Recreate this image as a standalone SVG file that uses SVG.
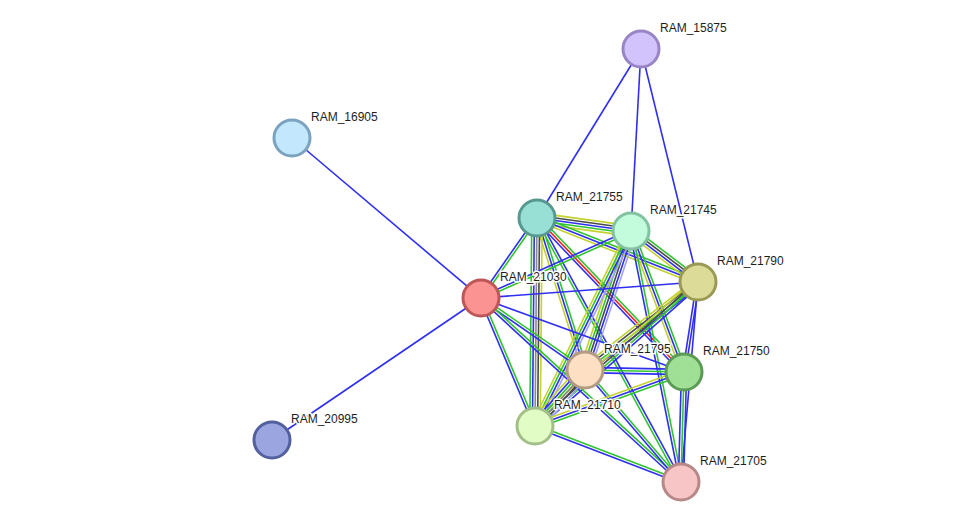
<svg xmlns="http://www.w3.org/2000/svg" width="976" height="528" viewBox="0 0 976 528">
<style>
line{stroke-width:1.6;fill:none}
.g{stroke:#2fc42f}.b{stroke:#2f2ff2}.y{stroke:#c3d22c}.k{stroke:#4a4a4a}.r{stroke:#ef2020}.h{stroke:#a4a4f6}
.node circle{stroke-width:3}
.node text{font-family:"Liberation Sans",Arial,sans-serif;font-size:12px;fill:#1e1e1e;stroke:#fff;stroke-width:3;paint-order:stroke;stroke-linejoin:round}
</style>
<rect width="976" height="528" fill="#fff"/>
<g id="edges">
<g transform="translate(292,138) rotate(40.25)"><line class="b" x1="0" y1="0" x2="247.6" y2="0"/></g>
<g transform="translate(272,440) rotate(-34.19)"><line class="b" x1="0" y1="0" x2="252.7" y2="0"/></g>
<g transform="translate(641,49) rotate(121.61)"><line class="b" x1="0" y1="0" x2="198.4" y2="0"/></g>
<g transform="translate(641,49) rotate(93.14)"><line class="b" x1="0" y1="0" x2="182.3" y2="0"/></g>
<g transform="translate(641,49) rotate(76.25)"><line class="b" x1="0" y1="0" x2="239.9" y2="0"/></g>
<g transform="translate(537,218) rotate(7.87)"><line class="y" x1="0" y1="-5.2" x2="94.9" y2="-5.2"/><line class="k" x1="0" y1="-2.6" x2="94.9" y2="-2.6"/><line class="b" x1="0" y1="0" x2="94.9" y2="0"/><line class="g" x1="0" y1="2.6" x2="94.9" y2="2.6"/><line class="y" x1="0" y1="5.2" x2="94.9" y2="5.2"/></g>
<g transform="translate(537,218) rotate(21.68)"><line class="g" x1="0" y1="-2.6" x2="173.3" y2="-2.6"/><line class="b" x1="0" y1="0" x2="173.3" y2="0"/><line class="y" x1="0" y1="2.6" x2="173.3" y2="2.6"/></g>
<g transform="translate(537,218) rotate(46.33)"><line class="g" x1="0" y1="-2.6" x2="212.9" y2="-2.6"/><line class="r" x1="0" y1="0" x2="212.9" y2="0"/><line class="b" x1="0" y1="2.6" x2="212.9" y2="2.6"/></g>
<g transform="translate(537,218) rotate(72.47)"><line class="g" x1="0" y1="-2.6" x2="159.4" y2="-2.6"/><line class="b" x1="0" y1="0" x2="159.4" y2="0"/><line class="y" x1="0" y1="2.6" x2="159.4" y2="2.6"/></g>
<g transform="translate(537,218) rotate(90.55)"><line class="y" x1="0" y1="-5.2" x2="208" y2="-5.2"/><line class="k" x1="0" y1="-2.6" x2="208" y2="-2.6"/><line class="k" x1="0" y1="0" x2="208" y2="0" style="stroke:#8a8a8a"/><line class="b" x1="0" y1="2.6" x2="208" y2="2.6"/><line class="g" x1="0" y1="5.2" x2="208" y2="5.2"/></g>
<g transform="translate(537,218) rotate(125)"><line class="g" x1="0" y1="-1.3" x2="97.6" y2="-1.3"/><line class="b" x1="0" y1="1.3" x2="97.6" y2="1.3"/></g>
<g transform="translate(537,218) rotate(61.39)"><line class="b" x1="0" y1="-1.3" x2="300.7" y2="-1.3"/><line class="g" x1="0" y1="1.3" x2="300.7" y2="1.3"/></g>
<g transform="translate(631,231) rotate(155.93)"><line class="g" x1="0" y1="-1.3" x2="164.3" y2="-1.3"/><line class="b" x1="0" y1="1.3" x2="164.3" y2="1.3"/></g>
<g transform="translate(631,231) rotate(37.28)"><line class="g" x1="0" y1="-3.9" x2="84.2" y2="-3.9"/><line class="k" x1="0" y1="-1.3" x2="84.2" y2="-1.3"/><line class="b" x1="0" y1="1.3" x2="84.2" y2="1.3"/><line class="y" x1="0" y1="3.9" x2="84.2" y2="3.9"/></g>
<g transform="translate(631,231) rotate(108.32)"><line class="h" x1="0" y1="-5.2" x2="146.4" y2="-5.2"/><line class="b" x1="0" y1="-2.6" x2="146.4" y2="-2.6"/><line class="k" x1="0" y1="0" x2="146.4" y2="0"/><line class="g" x1="0" y1="2.6" x2="146.4" y2="2.6"/><line class="y" x1="0" y1="5.2" x2="146.4" y2="5.2"/></g>
<g transform="translate(631,231) rotate(116.21)"><line class="h" x1="0" y1="-3.9" x2="217.3" y2="-3.9"/><line class="b" x1="0" y1="-1.3" x2="217.3" y2="-1.3"/><line class="g" x1="0" y1="1.3" x2="217.3" y2="1.3"/><line class="y" x1="0" y1="3.9" x2="217.3" y2="3.9"/></g>
<g transform="translate(631,231) rotate(69.40)"><line class="g" x1="0" y1="-2.6" x2="150.6" y2="-2.6"/><line class="b" x1="0" y1="0" x2="150.6" y2="0"/><line class="y" x1="0" y1="2.6" x2="150.6" y2="2.6"/></g>
<g transform="translate(631,231) rotate(78.73)"><line class="g" x1="0" y1="-1.3" x2="255.9" y2="-1.3"/><line class="b" x1="0" y1="1.3" x2="255.9" y2="1.3"/></g>
<g transform="translate(698,282) rotate(175.78)"><line class="b" x1="0" y1="0" x2="217.6" y2="0"/></g>
<g transform="translate(698,282) rotate(142.09)"><line class="b" x1="0" y1="-3.9" x2="143.2" y2="-3.9"/><line class="g" x1="0" y1="-1.3" x2="143.2" y2="-1.3"/><line class="k" x1="0" y1="1.3" x2="143.2" y2="1.3"/><line class="y" x1="0" y1="3.9" x2="143.2" y2="3.9"/></g>
<g transform="translate(698,282) rotate(138.54)"><line class="b" x1="0" y1="-3.9" x2="217.5" y2="-3.9"/><line class="g" x1="0" y1="-1.3" x2="217.5" y2="-1.3"/><line class="k" x1="0" y1="1.3" x2="217.5" y2="1.3"/><line class="y" x1="0" y1="3.9" x2="217.5" y2="3.9"/></g>
<g transform="translate(698,282) rotate(98.84)"><line class="b" x1="0" y1="-1.3" x2="91.1" y2="-1.3"/><line class="b" x1="0" y1="1.3" x2="91.1" y2="1.3"/></g>
<g transform="translate(698,282) rotate(94.86)"><line class="b" x1="0" y1="0" x2="200.7" y2="0"/></g>
<g transform="translate(481,298) rotate(34.70)"><line class="g" x1="0" y1="-1.3" x2="126.5" y2="-1.3"/><line class="b" x1="0" y1="1.3" x2="126.5" y2="1.3"/></g>
<g transform="translate(481,298) rotate(20.03)"><line class="b" x1="0" y1="0" x2="216.1" y2="0"/></g>
<g transform="translate(481,298) rotate(67.13)"><line class="g" x1="0" y1="-1.3" x2="138.9" y2="-1.3"/><line class="b" x1="0" y1="1.3" x2="138.9" y2="1.3"/></g>
<g transform="translate(481,298) rotate(42.61)"><line class="g" x1="0" y1="-1.3" x2="271.8" y2="-1.3"/><line class="b" x1="0" y1="1.3" x2="271.8" y2="1.3"/></g>
<g transform="translate(585,370) rotate(1.16)"><line class="b" x1="0" y1="-2.6" x2="99" y2="-2.6"/><line class="g" x1="0" y1="0" x2="99" y2="0"/><line class="b" x1="0" y1="2.6" x2="99" y2="2.6"/></g>
<g transform="translate(585,370) rotate(131.76)"><line class="h" x1="0" y1="-6.5" x2="75.1" y2="-6.5"/><line class="k" x1="0" y1="-3.9" x2="75.1" y2="-3.9"/><line class="k" x1="0" y1="-1.3" x2="75.1" y2="-1.3" style="stroke:#8a8a8a"/><line class="g" x1="0" y1="1.3" x2="75.1" y2="1.3"/><line class="b" x1="0" y1="3.9" x2="75.1" y2="3.9"/><line class="y" x1="0" y1="6.5" x2="75.1" y2="6.5"/></g>
<g transform="translate(585,370) rotate(49.40)"><line class="g" x1="0" y1="-1.3" x2="147.5" y2="-1.3"/><line class="b" x1="0" y1="1.3" x2="147.5" y2="1.3"/></g>
<g transform="translate(684,372) rotate(160.08)"><line class="g" x1="0" y1="-2.6" x2="158.5" y2="-2.6"/><line class="b" x1="0" y1="0" x2="158.5" y2="0"/><line class="y" x1="0" y1="2.6" x2="158.5" y2="2.6"/></g>
<g transform="translate(684,372) rotate(91.56)"><line class="b" x1="0" y1="-2.6" x2="110" y2="-2.6"/><line class="g" x1="0" y1="0" x2="110" y2="0"/><line class="b" x1="0" y1="2.6" x2="110" y2="2.6"/></g>
<g transform="translate(535,426) rotate(20.98)"><line class="g" x1="0" y1="-1.3" x2="156.4" y2="-1.3"/><line class="b" x1="0" y1="1.3" x2="156.4" y2="1.3"/></g>
</g>
<g id="n-RAM_15875" class="node"><circle cx="641" cy="49" r="18" fill="#d2c3fc" stroke="#9985c6"/><text x="660" y="32">RAM_15875</text></g>
<g id="n-RAM_16905" class="node"><circle cx="292" cy="138" r="18" fill="#c3e7fc" stroke="#7ba3bf"/><text x="311" y="121">RAM_16905</text></g>
<g id="n-RAM_21755" class="node"><circle cx="537" cy="218" r="18" fill="#98e0d6" stroke="#58998f"/><text x="556" y="201">RAM_21755</text></g>
<g id="n-RAM_21745" class="node"><circle cx="631" cy="231" r="18" fill="#c2fcdc" stroke="#83c2a0"/><text x="650" y="214">RAM_21745</text></g>
<g id="n-RAM_21790" class="node"><circle cx="698" cy="282" r="18" fill="#dcdb98" stroke="#9a9a57"/><text x="717" y="265">RAM_21790</text></g>
<g id="n-RAM_21030" class="node"><circle cx="481" cy="298" r="18" fill="#fc9393" stroke="#bd5656"/><text x="500" y="281">RAM_21030</text></g>
<g id="n-RAM_21795" class="node"><circle cx="585" cy="370" r="18" fill="#fde0c4" stroke="#b49b84"/><text x="604" y="353">RAM_21795</text></g>
<g id="n-RAM_21750" class="node"><circle cx="684" cy="372" r="18" fill="#9fe096" stroke="#5c9a56"/><text x="703" y="355">RAM_21750</text></g>
<g id="n-RAM_21710" class="node"><circle cx="535" cy="426" r="18" fill="#e1fcc4" stroke="#a3bf88"/><text x="554" y="409">RAM_21710</text></g>
<g id="n-RAM_20995" class="node"><circle cx="272" cy="440" r="18" fill="#9ba6e0" stroke="#53609e"/><text x="291" y="423">RAM_20995</text></g>
<g id="n-RAM_21705" class="node"><circle cx="681" cy="482" r="18" fill="#f7c5c5" stroke="#b68888"/><text x="700" y="465">RAM_21705</text></g>
</svg>
